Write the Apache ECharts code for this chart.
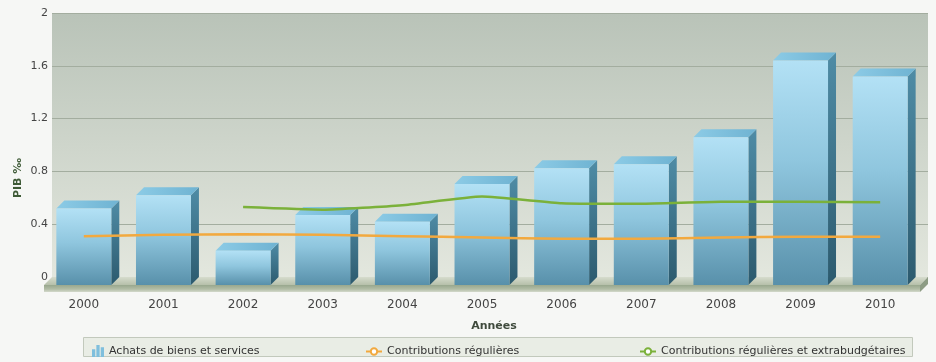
<!DOCTYPE html>
<html>
<head>
<meta charset="utf-8">
<script src="https://cdn.jsdelivr.net/npm/echarts@6/dist/echarts.min.js"></script>
<style>
  html, body { margin: 0; padding: 0; background: #f6f7f5; }
  #chart { width: 936px; height: 362px; }
</style>
</head>
<body>
<div id="chart"></div>
<script>
// Years on the category axis
const years = ['2000', '2001', '2002', '2003', '2004', '2005', '2006', '2007', '2008', '2009', '2010'];
// Achats de biens et services (PIB ‰)
const achats = [0.58, 0.68, 0.26, 0.53, 0.48, 0.765, 0.885, 0.915, 1.12, 1.70, 1.58];
// Contributions régulières (PIB ‰)
const contribRegulieres = [0.37, 0.38, 0.385, 0.38, 0.37, 0.36, 0.35, 0.35, 0.36, 0.365, 0.365];
// Contributions régulières et extrabudgétaires (PIB ‰)
const contribExtra = [null, null, 0.59, 0.57, 0.605, 0.67, 0.62, 0.615, 0.63, 0.63, 0.627];
// Value axis ticks
const yMin = 0, yMax = 2, yStep = 0.4;

const FONT = 'DejaVu Sans';
const DX = 8, DY = 8;           // depth offset between back wall and front plane
const G = echarts.graphic;

const chart = echarts.init(document.getElementById('chart'), null, { renderer: 'canvas' });

// 3D column: front face, side face and top face
function renderColumn(params, api) {
  const i = api.value(0), v = api.value(1);
  const top = api.coord([i, v]);
  const base = api.coord([i, 0]);
  const band = api.size([1, 0])[0];
  const w = band * 0.69;
  const fx = top[0] - w / 2 - DX;
  const fyTop = top[1] + DY, fyBase = base[1] + DY;
  return {
    type: 'group',
    children: [
      {
        type: 'polygon',
        shape: { points: [[fx + w, fyTop], [fx + w + DX, top[1]], [fx + w + DX, base[1]], [fx + w, fyBase]] },
        style: { fill: new G.LinearGradient(0, 0, 0, 1, [
          { offset: 0, color: '#4f8ca6' }, { offset: 1, color: '#2c5a6e' }]) }
      },
      {
        type: 'polygon',
        shape: { points: [[fx, fyTop], [fx + DX, top[1]], [fx + w + DX, top[1]], [fx + w, fyTop]] },
        style: { fill: new G.LinearGradient(0, 0, 1, 0, [
          { offset: 0, color: '#8ccbe6' }, { offset: 1, color: '#6fb3d2' }]) }
      },
      {
        type: 'rect',
        shape: { x: fx, y: fyTop, width: w, height: fyBase - fyTop },
        style: { fill: new G.LinearGradient(0, 0, 0, 1, [
          { offset: 0, color: '#b3e1f5' },
          { offset: 0.45, color: '#8fc6de' },
          { offset: 1, color: '#5890aa' }]) }
      }
    ]
  };
}

// Floor slab under the columns
function renderFloor(params, api) {
  const cs = params.coordSys;
  const x0 = cs.x, x1 = cs.x + cs.width, yb = cs.y + cs.height;
  const T = 7;
  return {
    type: 'group',
    children: [
      {
        type: 'polygon',
        shape: { points: [[x0, yb], [x1, yb], [x1 - DX, yb + DY], [x0 - DX, yb + DY]] },
        style: { fill: new G.LinearGradient(0, 0, 0, 1, [
          { offset: 0, color: '#d6dccd' }, { offset: 1, color: '#b6c0aa' }]) }
      },
      {
        type: 'rect',
        shape: { x: x0 - DX, y: yb + DY, width: cs.width, height: T },
        style: { fill: new G.LinearGradient(0, 0, 0, 1, [
          { offset: 0, color: '#98a78d' }, { offset: 0.6, color: '#b2bda6' }, { offset: 1, color: '#d3d9cb' }]) }
      },
      {
        type: 'polygon',
        shape: { points: [[x1 - DX, yb + DY], [x1, yb], [x1, yb + T], [x1 - DX, yb + DY + T]] },
        style: { fill: '#8d9c84' }
      }
    ]
  };
}

const axisText = { fontFamily: FONT, color: '#444' };

chart.setOption({
  backgroundColor: '#f6f7f5',
  animation: false,
  textStyle: { fontFamily: FONT },
  grid: [
    {
      left: 52, top: 13, width: 876, height: 264,
      show: true, borderWidth: 0,
      backgroundColor: new G.LinearGradient(0, 0, 0, 1, [
        { offset: 0, color: '#b9c3b8' }, { offset: 1, color: '#e3e7de' }])
    },
    { left: 52 - DX, top: 13 + DY, width: 876, height: 264 }
  ],
  xAxis: [
    {
      type: 'category', gridIndex: 0, data: years,
      axisLine: { show: false }, axisTick: { show: false }, axisLabel: { show: false }
    },
    {
      type: 'category', gridIndex: 1, data: years,
      axisLine: { show: false }, axisTick: { show: false },
      axisLabel: Object.assign({ fontSize: 12, margin: 14 }, axisText),
      name: 'Années', nameLocation: 'middle', nameGap: 36,
      nameTextStyle: { fontFamily: FONT, fontSize: 11, fontWeight: 'bold', color: '#3f4a3c', padding: [0, 0, 0, 24] }
    }
  ],
  yAxis: [
    {
      type: 'value', gridIndex: 0, min: yMin, max: yMax, interval: yStep,
      axisLine: { show: false }, axisTick: { show: false },
      axisLabel: Object.assign({ fontSize: 11, margin: 4 }, axisText),
      splitLine: { lineStyle: { color: '#a3ad9f', width: 1 } }
    },
    {
      type: 'value', gridIndex: 1, min: yMin, max: yMax, interval: yStep,
      show: false
    }
  ],
  legend: [
    {
      left: 87, top: 340, itemWidth: 12, itemHeight: 12, itemGap: 0,
      textStyle: { fontFamily: FONT, fontSize: 11, color: '#333' },
      data: [{ name: 'Achats de biens et services',
               icon: 'path://M0,5h3v7h-3z M4,1h3v11h-3z M8,3h3v9h-3z' }]
    },
    {
      left: 360, top: 341, itemWidth: 16, itemHeight: 8,
      textStyle: { fontFamily: FONT, fontSize: 11, color: '#333' },
      data: ['Contributions régulières']
    },
    {
      left: 634, top: 341, itemWidth: 16, itemHeight: 8,
      textStyle: { fontFamily: FONT, fontSize: 11, color: '#333' },
      data: ['Contributions régulières et extrabudgétaires']
    }
  ],
  graphic: [
    {
      type: 'rect', z: -1, left: 83, top: 337,
      shape: { width: 829, height: 19 },
      style: { fill: '#e9ede5', stroke: '#c2c9bc', lineWidth: 1 }
    },
    {
      type: 'text', x: 18, y: 178, rotation: Math.PI / 2,
      style: { text: 'PIB ‰', font: 'bold 11px "DejaVu Sans"', fill: '#3e5a36',
               textAlign: 'center', textVerticalAlign: 'middle' }
    }
  ],
  series: [
    {
      name: 'floor', type: 'custom', xAxisIndex: 0, yAxisIndex: 0, z: 1,
      silent: true, data: [[0, 0]], renderItem: renderFloor, tooltip: { show: false }
    },
    {
      name: 'Achats de biens et services', type: 'custom', xAxisIndex: 0, yAxisIndex: 0, z: 2,
      itemStyle: { color: '#7fbfdd' },
      data: achats.map((v, i) => [i, v]),
      encode: { x: 0, y: 1 },
      renderItem: renderColumn
    },
    {
      name: 'Contributions régulières', type: 'line', xAxisIndex: 1, yAxisIndex: 1, z: 3,
      data: contribRegulieres, symbol: 'emptyCircle', symbolSize: 6, showSymbol: false, smooth: 0.15,
      itemStyle: { color: '#f2a93f' }, lineStyle: { color: '#f2a93f', width: 2.5 }
    },
    {
      name: 'Contributions régulières et extrabudgétaires', type: 'line', xAxisIndex: 1, yAxisIndex: 1, z: 3,
      data: contribExtra, symbol: 'emptyCircle', symbolSize: 6, showSymbol: false, smooth: 0.15,
      itemStyle: { color: '#7bb13a' }, lineStyle: { color: '#7bb13a', width: 2.5 }
    }
  ]
});
</script>
</body>
</html>
